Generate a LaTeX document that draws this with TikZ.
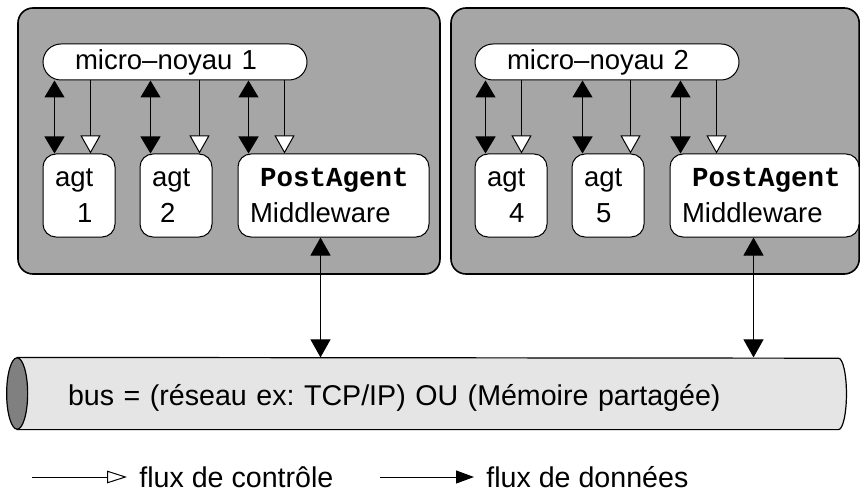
\documentclass[tikz,border=0pt]{standalone}
\usepackage{fontspec}
\setmainfont{Liberation Sans}
\setmonofont{Liberation Mono}
\usepackage{tikz}
\usetikzlibrary{arrows.meta,positioning,calc,backgrounds}
\frenchspacing

\begin{document}
\begin{tikzpicture}[
  x=1pt,y=1pt,
  font=\fontsize{13.75}{18}\selectfont,
  hostbox/.style ={draw,line width=0.8pt,fill=black!35,rounded corners=7.5pt,
                   minimum height=133pt,inner sep=0pt},
  kernel/.style  ={draw,line width=0.5pt,fill=white,rounded corners=9pt,
                   minimum width=132pt,minimum height=18pt,inner xsep=16pt,
                   inner ysep=0pt,text width=100pt,align=left},
  agent/.style   ={draw,line width=0.5pt,fill=white,rounded corners=6.5pt,
                   minimum width=36pt,minimum height=41.5pt,inner xsep=6pt,
                   inner ysep=0pt,text width=24pt,align=left},
  postag/.style  ={agent,minimum width=95.5pt,text width=83.5pt},
  busbox/.style  ={font=\fontsize{14.3}{18}\selectfont,
                   minimum width=410.25pt,minimum height=35.7pt,inner xsep=25.25pt,
                   inner ysep=0pt,text width=359.75pt,align=left,
                   text height=13pt,text depth=1.5pt},
  legtxt/.style  ={font=\fontsize{14.3}{18}\selectfont,
                   anchor=west,inner xsep=6pt,inner ysep=0pt},
  dataflow/.style={line width=0.6pt,
                   {Triangle[length=8.5pt,width=10pt]}-{Triangle[length=8.5pt,width=10pt]}},
  ctrlflow/.style={line width=0.5pt,{Triangle[length=9pt,width=10pt,fill=white]}-},
  busflow/.style ={line width=0.5pt,
                   {Triangle[length=9pt,width=10pt]}-{Triangle[length=9pt,width=10pt]}}]

\useasboundingbox (0,0) rectangle (430,246.5);

%---------------- hosts ----------------
\node[hostbox,minimum width=211pt] (h1) at (114.5,176) {};
\node[hostbox,minimum width=204.1pt] (h2) at (327.55,176) {};

%---------------- host 1 ----------------
\node[agent] (a1) at (39.5,148.75) {agt\\\hspace*{11pt}1};
\node[agent,right=12pt of a1] (a2) {agt\\\hspace*{4pt}2};
\node[postag,right=12.5pt of a2] (pa1) {\hspace*{5pt}\texttt{\bfseries PostAgent}\\Middleware};
\node[kernel,above=36.5pt of a1.north west,anchor=south west] (mk1) {micro--noyau 1};

%---------------- host 2 ----------------
\node[agent] (a4) at (255.5,148.75) {agt\\\hspace*{11pt}4};
\node[agent,right=12pt of a4] (a5) {agt\\\hspace*{6pt}5};
\node[postag,right=12.5pt of a5,minimum width=94.5pt,text width=82.5pt] (pa2)
  {\hspace*{5pt}\texttt{\bfseries PostAgent}\\Middleware};
\node[kernel,above=36.5pt of a4.north west,anchor=south west] (mk2) {micro--noyau 2};

% kernel <-> agents
\foreach \ag/\mk/\dx/\cx in {a1/mk1/6/24,a2/mk1/5.5/30,pa1/mk1/5.5/23.5,
                             a4/mk2/5.5/23.5,a5/mk2/5.5/29.5,pa2/mk2/5.5/23.5}{
  \draw[dataflow] ([xshift=\dx pt]\ag.north west) coordinate (d) -- (d |- \mk.south);
  \draw[ctrlflow] ([xshift=\cx pt]\ag.north west) coordinate (c) -- (c |- \mk.south);
}

%---------------- bus ----------------
\node[busbox] (bus) at (213.9,49.75) {bus = (réseau ex: TCP/IP) OU (Mémoire partagée)};
\begin{scope}[on background layer]
\draw[line width=0.6pt,fill=black!10] (bus.south west) -- (bus.south east)
  arc[start angle=-90,end angle=90,x radius=4pt,y radius=17.85pt] -- (bus.north west) -- cycle;
\draw[line width=0.6pt,fill=black!50] (bus.west) ellipse[x radius=5.25pt,y radius=17.85pt];
\end{scope}
\draw[busflow] ([xshift=41.5pt]pa1.south west) coordinate (b1) -- (b1 |- bus.north);
\draw[busflow] ([xshift=42pt]pa2.south west) coordinate (b2) -- (b2 |- bus.north);

%---------------- legend ----------------
\coordinate (lc0) at (16,8);
\node[legtxt] (lctl) at (63.5,8) {flux de contrôle};
\draw[line width=0.5pt,-{Triangle[open,length=10pt,width=6.3pt]}] (lc0) -- (lctl.west);
\coordinate (ld0) at (190,8);
\node[legtxt] (ldat) at (237,8) {flux de données};
\draw[line width=0.5pt,-{Triangle[length=9pt,width=6.5pt]}] (ld0) -- (ldat.west);

\end{tikzpicture}
\end{document}
